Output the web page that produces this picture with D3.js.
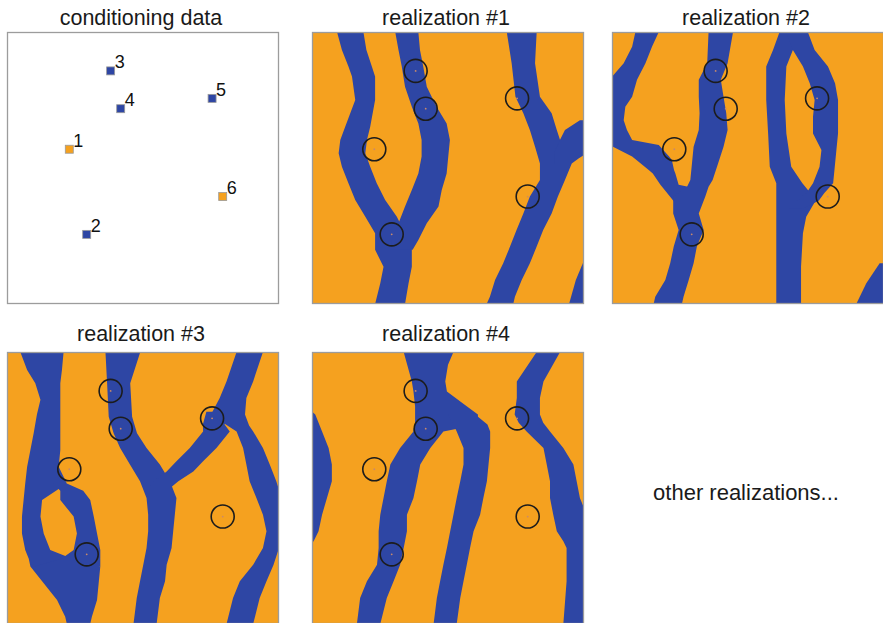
<!DOCTYPE html>
<html>
<head>
<meta charset="utf-8">
<script src="https://cdn.jsdelivr.net/npm/d3@7"></script>
<style>
  html, body { margin: 0; padding: 0; background: #fff; }
  svg { display: block; font-family: "Liberation Sans", Arial, sans-serif; }
</style>
</head>
<body>
<svg id="chart" width="883" height="623"></svg>
<script>
// conditioning data (grid units 0-100, y down)
const condIds = [1, 2, 3, 4, 5, 6];
const condX = [22.9, 29.3, 38.1, 41.8, 75.4, 79.3];
const condY = [43.1, 74.4, 14.3, 28.2, 24.4, 60.5];
const condFacies = ["levee", "channel", "channel", "channel", "channel", "levee"];

const panelTitles = ["conditioning data", "realization #1", "realization #2", "realization #3", "realization #4"];

// channel bodies, rows of [y, x left, x right]
const real1A = [[0, 9.2, 18.9], [6.6, 11, 20], [12.7, 13.4, 22], [16.4, 14.7, 23.2], [25, 15.9, 23.2], [34.8, 12.2, 21.4], [39.7, 10.4, 20.2], [44.6, 9.8, 19.6], [49.5, 11, 21.4], [55.6, 13.4, 23.8], [61.8, 15.9, 26.9], [67.9, 19.6, 31.2], [74, 23.2, 34.2], [80.1, 23.2, 36.7], [86.3, 26.3, 36.7], [92.4, 25.1, 35.5], [100, 23.2, 34.2]];
const real1B = [[0, 30.6, 39.1], [6.6, 31.8, 39.7], [12.7, 33, 40.9], [20.1, 34.2, 42.2], [27.5, 36.7, 45.8], [33.6, 39.1, 49.5], [39.7, 40.3, 50.7], [45.8, 40.3, 50.1], [52, 39.1, 49.5], [58.1, 36.7, 47.7], [64.2, 34.2, 46.5], [70.3, 31.8, 42.2], [76.5, 29.3, 39.1], [80.1, 29, 37]];
const real1C = [[0, 71.6, 82.6], [11.5, 73.4, 82], [23.8, 74.8, 83.8], [29.9, 77.7, 88.1], [36, 80.1, 90], [42.2, 82, 92], [48.3, 83.8, 95.5], [54.4, 83.8, 93], [60.5, 80.1, 90.4], [66.7, 77.7, 88.1], [72.8, 75.2, 85], [78.9, 72.8, 82.6], [85, 70.3, 80.1], [91.2, 67.3, 77.1], [97.3, 65.4, 74.6], [100, 64.2, 74]];
const real1D = [[32.4, 98.5, 101], [36, 93, 101], [40, 91, 101], [44.6, 89, 101], [46.5, 89, 98], [48.3, 89, 95.5]];
const real1E = [[84, 100, 101], [91.2, 97, 101], [100, 94.5, 101]];

const real2A = [[0, 8.6, 17.2], [5.4, 7.4, 14.7], [11.5, 4.3, 12.3], [17.6, -1, 9.2], [23.8, -1, 7.4], [27.5, -1, 4.9], [32.4, -1, 4.3], [36, -1, 5.5], [39.7, -1, 7.4], [41.5, -1, 17.2], [45.8, 7.4, 21], [47.1, 9, 22], [50.7, 13.5, 22.8], [52, 15, 23.3], [56.2, 17.8, 24.5], [56.9, 18.4, 28], [63, 23.3, 30], [67.9, 26, 31]];
const real2B = [[0, 35.5, 44.5], [11.5, 35, 42.5], [17.6, 31.9, 40], [23.8, 31.9, 41], [29.9, 32.2, 42], [36, 31.9, 42.5], [42.2, 30, 41], [48.3, 29.4, 39], [54.4, 28.8, 37], [56.9, 27.6, 35.5], [60.5, 22.5, 34.3], [66.7, 22.5, 31.9], [72.8, 24.5, 33.7], [78.9, 22.7, 31.2], [85, 21.4, 30], [91.2, 19.6, 28.2], [97.3, 15.9, 26.3], [100, 15.3, 25.7]];
const real2C = [[0, 61.6, 71.4], [6.6, 59.2, 66.5], [12.7, 56.7, 64.1], [25, 56.7, 63.5], [37.3, 57.4, 64.1], [49.5, 58, 65.9], [55.6, 60.4, 70], [61.8, 60.4, 75], [67.9, 60.4, 71.4], [74, 60.4, 70.2], [86.3, 60.4, 69.5], [100, 60.4, 69.5]];
const real2D = [[0, 64, 72], [6.6, 66.5, 74.5], [12.7, 70.2, 79.4], [18.8, 72.7, 82], [25, 74.5, 83.1], [31.2, 73.9, 83.1], [37.3, 73.9, 83.1], [43.4, 77, 82.5], [49.5, 76.3, 81.9], [55.6, 73.9, 81.3], [59.3, 71.4, 78], [62, 68, 76], [65, 65, 70]];
const real2E = [[85, 98.4, 101], [92.4, 93.5, 101], [100, 89.8, 101]];

const real3A = [[0, 4.9, 20.8], [6.6, 7.4, 20.2], [11.5, 10.4, 19.6], [17.6, 12.3, 19.6], [23, 11, 19.6], [29.9, 9.8, 19.6], [36, 8.6, 19.6], [42.2, 7.4, 19], [48.3, 6.7, 22], [54.4, 6.1, 12.9], [60.5, 5.5, 12.3], [66.7, 5.5, 13.5], [72.8, 6.7, 15.9], [76, 8, 24], [78.9, 8.6, 34.3], [85, 13.5, 33.7], [91.2, 18.4, 33.1], [97.3, 21.4, 31.2], [100, 22, 30.6]];
const real3B = [[48.3, 17, 22], [51, 19.6, 28], [54.4, 19.6, 30.6], [60.5, 24.5, 31.9], [66.7, 25.7, 33.1], [72.8, 24.5, 34.3], [76, 20, 34.3], [78.9, 10, 34.3]];
const real3C = [[0, 36.2, 49], [11.5, 36.8, 45.3], [23.8, 37.4, 46], [29.9, 39.2, 47.8], [35.3, 41.6, 51.3], [41.4, 45.2, 56.2], [47.5, 48.9, 59.9], [53.7, 51.3, 62.3], [59.8, 51.9, 61.7], [65.9, 51.9, 61.1], [72.1, 51.3, 60.5], [78.2, 50.1, 58.7], [84.3, 48.9, 58.1], [90.4, 47.7, 56.2], [100, 46.5, 55]];
const real3D = [[22, 73.3, 82], [26.7, 72, 80], [29.2, 72.1, 81.9], [35.3, 67.2, 77], [40.2, 62.3, 72.1], [43.9, 58.7, 68.5], [47.5, 54, 63], [50, 52, 60]];
const real3E = [[0, 84.4, 94.1], [10.8, 80.7, 90.5], [16.9, 78.2, 88], [23, 75, 87.5], [27, 81, 89], [29.2, 84.4, 90.5], [35.3, 86.8, 94.1], [41.4, 88, 96.6], [47.5, 89.2, 99], [53.7, 91.7, 101], [59.8, 94.1, 101], [65.9, 95.4, 101], [72.1, 94.1, 100], [78.2, 90.5, 98], [84.3, 85.6, 95.4], [90.4, 83.1, 92.9], [100, 80.7, 90.5]];

const real4A = [[21, -1, -1], [23, -1, 1.2], [29.2, -1, 3.7], [35.3, -1, 6.1], [41.4, -1, 7.3], [47.5, -1, 7.3], [53.7, -1, 5.5], [59.8, -1, 3.7], [65.9, -1, 2.4], [69.6, -1, 0.6], [71, -1, -1]];
const real4B = [[0, 33.7, 52], [4.7, 35, 50], [10.8, 36.7, 49], [14.5, 37.3, 49.6], [20, 37.9, 57], [23, 37.9, 61], [26.7, 37.9, 61], [28.5, 37.3, 52], [29.2, 37.3, 48.3], [35.3, 32.4, 43.5], [41.4, 28.8, 39.8], [47.5, 27.5, 38.6], [53.7, 26.3, 37.3], [59.8, 25.1, 34.9], [65.9, 24.5, 34.9], [72.1, 24.5, 33.7], [78.2, 23.9, 32.4], [84.3, 20.2, 30], [90.4, 17.7, 27.5], [100, 16.5, 25.1]];
const real4C = [[23, 50, 60], [26.7, 52, 64.5], [29.2, 53.2, 65.5], [35.3, 55.7, 65.5], [41.4, 55.7, 64.9], [47.5, 54.5, 64.3], [53.7, 53.2, 63], [59.8, 52, 61.8], [65.9, 50.8, 59.4], [72.1, 49.6, 58.1], [78.2, 48.3, 56.9], [84.3, 47.1, 55.7], [90.4, 45.9, 54.5], [100, 44.7, 53.2]];
const real4D = [[0, 82.6, 91.2], [10.8, 75.3, 85.1], [16.9, 75.3, 83.8], [23, 74.5, 83.8], [26, 76, 85], [29.2, 78.9, 87.5], [35.3, 85.1, 92.4], [41.4, 86.3, 96.1], [47.5, 87.5, 97.3], [53.7, 87.5, 98.5], [59.8, 88.7, 101], [65.9, 90, 101], [69.6, 92.4, 101], [72.1, 93.6, 101], [84.3, 93.6, 101], [100, 92.4, 101]];

const realizations = [
  [real1A, real1B, real1C, real1D, real1E],
  [real2A, real2B, real2C, real2D, real2E],
  [real3A, real3B, real3C, real3D, real3E],
  [real4A, real4B, real4C, real4D]
];

const orange = "#f5a11f", blue = "#2e46a4";
const size = 272;
const panels = [
  {x: 7, y: 32, ty: 25},
  {x: 312, y: 32, ty: 25},
  {x: 612, y: 32, ty: 25},
  {x: 7, y: 352, ty: 341},
  {x: 312, y: 352, ty: 341}
];

const svg = d3.select("#chart");
const x = d3.scaleLinear().domain([0, 100]).range([0, size]);
const y = d3.scaleLinear().domain([0, 100]).range([0, size]);

const channel = d3.area()
  .curve(d3.curveLinear)
  .y(d => y(d[0]))
  .x0(d => x(d[1]))
  .x1(d => x(d[2]));

const cond = condIds.map((id, i) => ({id: id, x: condX[i], y: condY[i], f: condFacies[i]}));

panels.forEach((p, i) => {
  const g = svg.append("g").attr("transform", `translate(${p.x},${p.y})`);

  svg.append("text")
    .attr("x", p.x + size / 2 - 2)
    .attr("y", p.ty)
    .attr("text-anchor", "middle")
    .attr("font-size", "21.5px")
    .attr("fill", "#1a1a1a")
    .text(panelTitles[i]);

  g.append("clipPath").attr("id", "clip" + i)
    .append("rect").attr("width", size).attr("height", size);

  if (i === 0) {
    g.append("rect").attr("width", size).attr("height", size).attr("fill", "#fff");
    g.selectAll("rect.pt")
      .data(cond)
      .enter()
      .append("rect")
      .classed("pt", true)
      .attr("x", d => x(d.x) - 4)
      .attr("y", d => y(d.y) - 4)
      .attr("width", 8)
      .attr("height", 8)
      .attr("fill", d => d.f === "channel" ? blue : orange)
      .attr("stroke", "#9a9a9a")
      .attr("stroke-width", 0.8);
    g.selectAll("text.lbl")
      .data(cond)
      .enter()
      .append("text")
      .classed("lbl", true)
      .attr("x", d => x(d.x) + 4)
      .attr("y", d => y(d.y) - 2.5)
      .attr("font-size", "18px")
      .attr("fill", "#111")
      .text(d => d.id);
  } else {
    const body = g.append("g").attr("clip-path", `url(#clip${i})`);
    body.append("rect").attr("width", size).attr("height", size).attr("fill", orange);
    body.selectAll("path.ch")
      .data(realizations[i - 1])
      .enter()
      .append("path")
      .classed("ch", true)
      .attr("d", channel)
      .attr("fill", blue);
    body.selectAll("circle.well")
      .data(cond)
      .enter()
      .append("circle")
      .classed("well", true)
      .attr("cx", d => x(d.x))
      .attr("cy", d => y(d.y))
      .attr("r", 11.5)
      .attr("fill", "none")
      .attr("stroke", "#1c1c1c")
      .attr("stroke-width", 1.6);
    body.selectAll("circle.dot")
      .data(cond)
      .enter()
      .append("circle")
      .classed("dot", true)
      .attr("cx", d => x(d.x))
      .attr("cy", d => y(d.y))
      .attr("r", 0.9)
      .attr("fill", "#c98a6a");
  }

  g.append("rect")
    .attr("x", 0.5).attr("y", 0.5)
    .attr("width", size - 1).attr("height", size - 1)
    .attr("fill", "none")
    .attr("stroke", "#9c9c9c")
    .attr("stroke-width", 1.3);
});

svg.append("text")
  .attr("x", 746)
  .attr("y", 500)
  .attr("text-anchor", "middle")
  .attr("font-size", "22px")
  .attr("fill", "#1a1a1a")
  .text("other realizations...");
</script>
</body>
</html>
